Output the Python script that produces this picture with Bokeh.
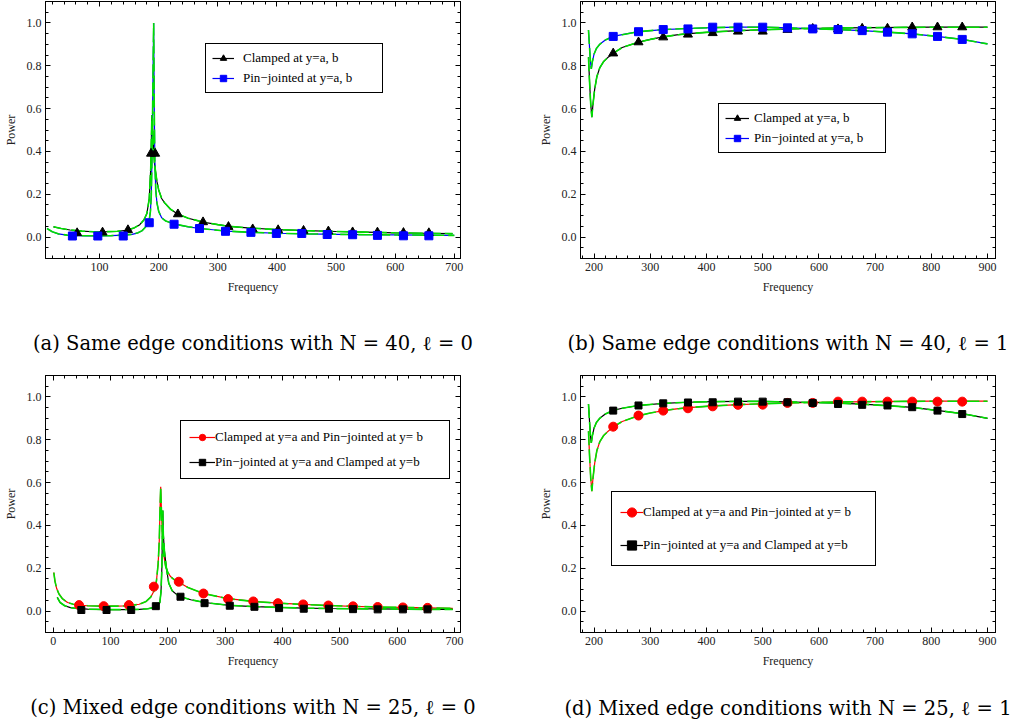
from bokeh.plotting import figure
from bokeh.models import (Range1d, LinearAxis, SingleIntervalTicker, PrintfTickFormatter,
                          Legend, LegendItem, FixedTicker)
from bokeh.layouts import column, row
from bokeh.embed import file_html
from bokeh.resources import INLINE

# ---------------- data ----------------
# (a) Same edge conditions, N=40, l=0
a_clamped_f = [22, 35, 50, 70, 90, 110, 130, 145, 158, 168, 175, 180, 184, 186.5, 188.5, 190, 191.5, 193, 195,
               197, 200, 205, 210, 220, 232, 250, 275, 300, 320, 350, 400, 450, 500, 550, 600, 650, 697]
a_clamped_p = [0.048, 0.04, 0.033, 0.028, 0.025, 0.025, 0.027, 0.032, 0.042, 0.058, 0.08, 0.11, 0.18, 0.32, 0.57,
               0.5, 0.4, 0.34, 0.3, 0.26, 0.22, 0.18, 0.16, 0.13, 0.108, 0.088, 0.07, 0.058, 0.05, 0.043, 0.035,
               0.03, 0.026, 0.023, 0.02, 0.018, 0.016]
a_pin_f = [11, 20, 30, 45, 60, 80, 100, 120, 140, 155, 165, 172, 177, 181, 184, 186, 187.5, 188.5, 189.5, 190.5,
           191.5, 192.5, 193.5, 195, 197, 200, 205, 212, 225, 250, 270, 300, 315, 350, 400, 450, 500, 550, 600,
           650, 700]
a_pin_p = [0.04, 0.025, 0.015, 0.009, 0.007, 0.006, 0.006, 0.007, 0.009, 0.013, 0.02, 0.03, 0.045, 0.06, 0.08,
           0.12, 0.2, 0.35, 0.55, 0.8, 1.0, 0.6, 0.35, 0.22, 0.16, 0.12, 0.09, 0.075, 0.062, 0.048, 0.04, 0.032,
           0.028, 0.023, 0.018, 0.015, 0.013, 0.011, 0.01, 0.009, 0.008]
a_tri_f = [62, 105, 148, 187, 194, 232.5, 275, 318, 359, 402, 445, 487, 528, 570, 614, 657]
a_tri_p = [0.019, 0.022, 0.033, 0.39, 0.39, 0.107, 0.07, 0.048, 0.037, 0.033, 0.03, 0.027, 0.023, 0.022, 0.02, 0.019]
a_sq_f = [54, 97, 140, 184, 226, 269, 313, 356, 399, 442, 485, 528, 570, 614, 657]
a_sq_p = [0.005, 0.005, 0.005, 0.067, 0.06, 0.04, 0.027, 0.022, 0.017, 0.017, 0.012, 0.011, 0.008, 0.006, 0.006]

# (b) Same edge conditions, N=40, l=1
b_clamped_f = [190, 192, 194, 196, 198, 201, 205, 210, 217, 225, 234, 250, 279, 300, 323, 350, 368, 412, 457, 500,
               550, 600, 650, 700, 750, 800, 850, 900]
b_clamped_p = [0.84, 0.72, 0.62, 0.56, 0.62, 0.69, 0.75, 0.79, 0.82, 0.84, 0.858, 0.885, 0.91, 0.923, 0.935, 0.945,
               0.95, 0.958, 0.964, 0.968, 0.972, 0.975, 0.977, 0.978, 0.979, 0.98, 0.98, 0.98]
b_pin_f = [190, 192, 193.5, 195, 197, 200, 204, 210, 220, 234, 250, 279, 323, 367, 411, 456, 500, 544, 588, 633,
           677, 722, 766, 810, 855, 900]
b_pin_p = [0.967, 0.88, 0.82, 0.785, 0.82, 0.855, 0.88, 0.9, 0.92, 0.937, 0.945, 0.959, 0.969, 0.974, 0.978, 0.98,
           0.98, 0.977, 0.973, 0.969, 0.964, 0.957, 0.949, 0.937, 0.923, 0.902]
b_mark_f = [234, 279, 323, 367, 411, 456, 500, 544, 589, 634, 677, 722, 766, 811, 855]
b_tri_p = [0.858, 0.91, 0.933, 0.946, 0.953, 0.96, 0.96, 0.968, 0.973, 0.971, 0.974, 0.974, 0.98, 0.98, 0.98]
b_sq_p = [0.937, 0.959, 0.969, 0.972, 0.98, 0.98, 0.98, 0.977, 0.972, 0.969, 0.964, 0.957, 0.949, 0.937, 0.923]

# (c) Mixed edge conditions, N=25, l=0
c_red_f = [1, 3, 6, 10, 16, 25, 35, 45, 60, 88, 110, 132, 150, 162, 170, 176, 180, 183, 185, 186.5, 187.5, 189,
           191, 193, 196, 200, 205, 212, 219, 235, 262, 305, 349, 392, 436, 480, 523, 566, 610, 653, 697]
c_red_p = [0.18, 0.14, 0.105, 0.08, 0.058, 0.04, 0.032, 0.028, 0.025, 0.023, 0.023, 0.025, 0.032, 0.045, 0.065,
           0.095, 0.14, 0.22, 0.33, 0.5, 0.58, 0.45, 0.32, 0.26, 0.21, 0.18, 0.16, 0.145, 0.135, 0.11, 0.082,
           0.058, 0.045, 0.037, 0.031, 0.026, 0.022, 0.019, 0.017, 0.015, 0.013]
c_blk_f = [7, 12, 20, 30, 42, 60, 90, 120, 150, 165, 175, 182, 186, 188, 189.5, 190.5, 191.2, 192, 194, 197.5,
           201.5, 207.5, 215, 222, 240, 264, 307, 351, 394, 437, 480, 523, 566, 610, 653, 697]
c_blk_p = [0.064, 0.04, 0.025, 0.016, 0.012, 0.009, 0.007, 0.007, 0.008, 0.011, 0.016, 0.025, 0.04, 0.09, 0.2,
           0.35, 0.47, 0.36, 0.28, 0.2, 0.13, 0.095, 0.078, 0.067, 0.053, 0.04, 0.027, 0.021, 0.017, 0.014,
           0.012, 0.011, 0.01, 0.009, 0.008, 0.008]
c_circ_f = [45, 88, 132, 175.5, 219, 262, 305, 349, 392, 436, 480, 523, 566, 610, 653]
c_circ_p = [0.028, 0.023, 0.028, 0.114, 0.137, 0.082, 0.056, 0.045, 0.037, 0.031, 0.026, 0.022, 0.019, 0.017, 0.015]
c_sq_f = [49, 93, 136, 179, 222, 264, 308, 351, 394, 437, 481, 523, 566, 610, 653]
c_sq_p = [0.005, 0.005, 0.005, 0.023, 0.067, 0.037, 0.025, 0.02, 0.014, 0.011, 0.011, 0.009, 0.008, 0.008, 0.008]

# (d) Mixed edge conditions, N=25, l=1
d_red_f = [190, 192, 194, 196, 198, 201, 205, 210, 217, 225, 234, 250, 279, 300, 323, 350, 368, 412, 457, 500,
           550, 600, 650, 700, 750, 800, 850, 900]
d_red_p = [0.84, 0.72, 0.62, 0.56, 0.62, 0.69, 0.75, 0.79, 0.82, 0.84, 0.86, 0.885, 0.912, 0.925, 0.936, 0.945,
           0.95, 0.958, 0.964, 0.968, 0.972, 0.975, 0.977, 0.978, 0.979, 0.98, 0.98, 0.98]
d_blk_f = [190, 192, 193.5, 195, 197, 200, 204, 210, 220, 234, 250, 279, 323, 367, 411, 456, 500, 544, 588, 633,
           677, 722, 766, 810, 855, 900]
d_blk_p = [0.967, 0.88, 0.82, 0.785, 0.82, 0.855, 0.88, 0.9, 0.92, 0.937, 0.947, 0.96, 0.97, 0.975, 0.978, 0.979,
           0.979, 0.977, 0.974, 0.971, 0.966, 0.959, 0.951, 0.937, 0.922, 0.9]
d_mark_f = [234, 279, 323, 367, 411, 456, 500, 544, 589, 634, 677, 722, 766, 811, 855]
d_circ_p = [0.861, 0.913, 0.936, 0.947, 0.956, 0.963, 0.964, 0.972, 0.972, 0.978, 0.978, 0.978, 0.978, 0.978, 0.978]
d_sq_p = [0.936, 0.96, 0.97, 0.974, 0.975, 0.978, 0.978, 0.975, 0.972, 0.967, 0.963, 0.96, 0.952, 0.936, 0.92]

lab_same = ["Clamped at y=a, b", "Pin\u2212jointed at y=a, b"]
lab_mixed = ["Clamped at y=a and Pin\u2212jointed at y= b", "Pin\u2212jointed at y=a and Clamped at y=b"]
captions = ["(a) Same edge conditions with N = 40, \u2113 = 0",
            "(b) Same edge conditions with N = 40, \u2113 = 1",
            "(c) Mixed edge conditions with N = 25, \u2113 = 0",
            "(d) Mixed edge conditions with N = 25, \u2113 = 1"]

SERIF = "Liberation Serif"
CAPFONT = "DejaVu Serif"
GREEN = "#00e000"


def panel(xr, w, h, borders, curves, marks, labels, leg, cap, cap_standoff):
    p = figure(width=w, height=h, x_range=Range1d(*xr), y_range=Range1d(-0.1, 1.1),
               output_backend="svg", toolbar_location=None, tools="",
               min_border_left=borders[0], min_border_right=borders[1],
               min_border_top=borders[2], min_border_bottom=borders[3],
               x_axis_label="Frequency", y_axis_label="Power")
    p.grid.visible = False
    p.outline_line_color = "black"
    p.background_fill_color = "white"
    p.border_fill_color = "white"
    p.add_layout(LinearAxis(), "above")
    p.add_layout(LinearAxis(), "right")
    for ax in p.xaxis:
        ax.ticker = SingleIntervalTicker(interval=100, num_minor_ticks=5)
        ax.formatter = PrintfTickFormatter(format="%d")
    for ax in p.yaxis:
        ax.ticker = SingleIntervalTicker(interval=0.2, num_minor_ticks=4)
        ax.formatter = PrintfTickFormatter(format="%.1f")
    for ax in p.axis:
        ax.axis_line_color = "black"
        ax.major_tick_line_color = "black"
        ax.minor_tick_line_color = "black"
        ax.major_tick_in = 5
        ax.major_tick_out = 0
        ax.minor_tick_in = 3
        ax.minor_tick_out = 0
        ax.major_label_text_font = SERIF
        ax.major_label_text_font_size = "12px"
        ax.major_label_text_color = "#222222"
        ax.major_label_standoff = 4
        ax.axis_label_text_font = SERIF
        ax.axis_label_text_font_size = "12px"
        ax.axis_label_text_font_style = "normal"
        ax.axis_label_text_color = "#222222"
        ax.axis_label_standoff = 6
    for ax in (p.above[0], p.right[0]):
        ax.major_label_text_font_size = "0px"
        ax.major_label_text_color = None
        ax.major_label_standoff = 0
        ax.axis_label = None

    # caption under the panel, as the label of a bare extra axis
    cap_ax = LinearAxis(ticker=FixedTicker(ticks=[]), axis_label=cap, axis_label_standoff=cap_standoff,
                        axis_label_text_font=CAPFONT, axis_label_text_font_size="19.5px",
                        axis_label_text_font_style="normal", axis_label_text_color="black",
                        axis_line_color=None, major_tick_line_color=None, minor_tick_line_color=None,
                        major_tick_in=0, major_tick_out=0, minor_tick_in=0, minor_tick_out=0,
                        major_label_text_font_size="0px", major_label_text_color=None,
                        major_label_standoff=0)
    p.add_layout(cap_ax, "below")

    line_rs = []
    for f, pw, col in curves:
        line_rs.append(p.line(f, pw, line_color=col, line_width=1.2))
    for f, pw, col in curves:
        p.line(f, pw, line_color=GREEN, line_width=1.6, line_dash="14 4")
    mark_rs = []
    for f, pw, mk, col, sz in marks:
        mark_rs.append(p.scatter(f, pw, marker=mk, size=sz, fill_color=col, line_color=col))

    items = [LegendItem(label=labels[i], renderers=[line_rs[i], mark_rs[i]]) for i in range(2)]
    legend = Legend(items=items, location=leg["loc"], padding=leg["pad"], spacing=leg["sp"],
                    label_height=leg["lh"], glyph_height=leg["lh"], glyph_width=leg["gw"],
                    label_standoff=leg["so"], label_width=leg["lw"], margin=0,
                    label_text_font=SERIF, label_text_font_size="13px", label_text_color="black",
                    border_line_color="black", border_line_width=1.2, border_line_alpha=1.0,
                    background_fill_color="white", background_fill_alpha=1.0)
    p.add_layout(legend)
    return p


H1, H2 = 358, 366

pa = panel((8.5, 710.5), 510, H1, (45, 50, 1, 100),
           [(a_clamped_f, a_clamped_p, "black"), (a_pin_f, a_pin_p, "#0000ff")],
           [(a_tri_f, a_tri_p, "triangle", "black", 9), (a_sq_f, a_sq_p, "square", "#0000ff", 8)],
           lab_same, dict(loc=(160, 165), pad=6, sp=4, lh=16, gw=22, so=9, lw=133),
           captions[0], 35)

pb = panel((175.8, 914.2), 505, H1, (70, 20, 1, 100),
           [(b_clamped_f, b_clamped_p, "black"), (b_pin_f, b_pin_p, "#0000ff")],
           [(b_mark_f, b_tri_p, "triangle", "black", 9), (b_mark_f, b_sq_p, "square", "#0000ff", 8)],
           lab_same, dict(loc=(138, 105), pad=6, sp=4, lh=16, gw=24, so=5, lw=125),
           captions[1], 35)

pc = panel((-13.5, 710.5), 510, H2, (45, 50, 17, 92),
           [(c_red_f, c_red_p, "#ff0000"), (c_blk_f, c_blk_p, "black")],
           [(c_circ_f, c_circ_p, "circle", "#ff0000", 9), (c_sq_f, c_sq_p, "square", "black", 7)],
           lab_mixed, dict(loc=(135, 153), pad=8, sp=9, lh=16, gw=26, so=0, lw=226),
           captions[2], 25)

pd = panel((175.8, 914.2), 505, H2, (70, 20, 17, 92),
           [(d_red_f, d_red_p, "#ff0000"), (d_blk_f, d_blk_p, "black")],
           [(d_mark_f, d_circ_p, "circle", "#ff0000", 9), (d_mark_f, d_sq_p, "square", "black", 7)],
           lab_mixed, dict(loc=(31, 66), pad=8, sp=9, lh=24, gw=23, so=0, lw=224),
           captions[3], 26)

layout = column(row(pa, pb), row(pc, pd))
open("out.html", "w").write(file_html(layout, INLINE))
